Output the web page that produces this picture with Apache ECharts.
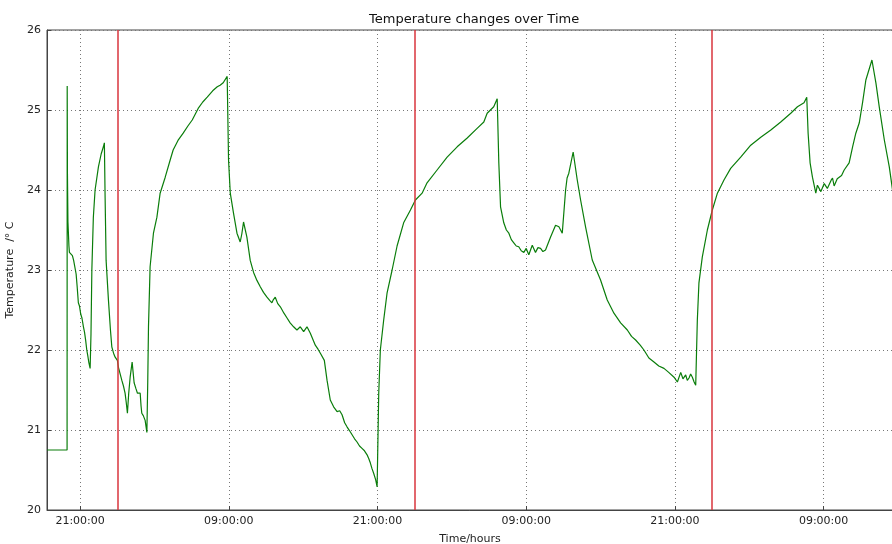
<!DOCTYPE html>
<html><head><meta charset="utf-8">
<script src="https://cdn.jsdelivr.net/npm/echarts@6/dist/echarts.min.js"></script>
<style>html,body{margin:0;padding:0;background:#fff}#c{width:892px;height:544px}</style>
</head><body><div id="c"></div>
<script>
// time in hours since midnight of the first day
const timeHours = [
  18.33, 19.95, 19.96, 19.98, 20.02, 20.10, 20.14, 20.25, 20.38, 20.48, 20.60, 20.68, 20.76, 20.86, 20.95, 21.05, 21.15, 21.27, 21.36, 21.45, 21.54, 21.62, 21.70, 21.81,
  21.88, 21.95, 22.07, 22.21, 22.48, 22.70, 22.88, 22.96, 23.02, 23.10, 23.29, 23.45, 23.56, 23.70, 23.83, 24.01, 24.10, 24.20, 24.37, 24.50, 24.63, 24.72, 24.82,
  24.92, 25.04, 25.20, 25.28, 25.36, 25.50, 25.63, 25.75, 25.85, 25.92, 25.98, 26.10, 26.25, 26.39,
  26.46, 26.52, 26.65, 26.92, 27.20, 27.46, 27.87, 28.27, 28.51, 28.90, 29.32, 29.70, 30.05, 30.53, 30.90, 31.26, 31.70, 32.07, 32.30, 32.55, 32.87,
  32.98, 33.12, 33.38, 33.66, 33.92, 34.05, 34.19, 34.46, 34.73, 35.00, 35.27, 35.54, 35.80, 36.08, 36.30, 36.48, 36.60, 36.75, 36.95, 37.16, 37.45, 37.70, 37.95,
  38.23, 38.50, 38.77, 39.04, 39.31, 39.58, 39.98, 40.20, 40.39, 40.71, 40.93, 41.19, 41.46, 41.60, 41.74, 41.95, 42.14, 42.35, 42.54, 42.75, 42.95, 43.15, 43.35,
  43.55, 43.75, 43.95, 44.16, 44.30, 44.42, 44.55, 44.69, 44.85, 44.97,
  45.10, 45.23, 45.50, 45.77, 46.18, 46.58, 47.11, 47.66, 48.06, 48.60, 49.00, 49.81, 50.62, 51.43, 52.24, 53.04, 53.58, 53.85, 54.38, 54.66,
  54.79, 54.93, 55.19, 55.40, 55.60, 55.80, 56.00, 56.20, 56.40, 56.60, 56.81, 57.00, 57.21, 57.49, 57.75, 57.95, 58.16, 58.35, 58.56, 58.96, 59.37, 59.64, 59.91,
  60.18, 60.30, 60.44, 60.79, 61.12, 61.39, 61.79, 62.33, 63.00, 63.54, 64.08, 64.62, 65.16, 65.50, 65.83, 66.20, 66.50, 66.90, 67.31, 67.70, 68.12, 68.50, 68.93,
  69.20, 69.47, 69.65, 69.87, 70.00, 70.14, 70.27, 70.41, 70.55, 70.68,
  70.81, 70.94, 71.21, 71.62, 72.02, 72.43, 72.96, 73.50, 74.31, 75.12, 75.93, 76.74, 77.54, 78.35, 78.89, 79.42, 79.64,
  79.75, 79.91, 80.10, 80.37, 80.50, 80.64, 80.78, 80.91, 81.05, 81.18, 81.30, 81.45, 81.60, 81.72, 81.85, 81.99, 82.10, 82.26, 82.45, 82.66, 83.06, 83.34, 83.60,
  83.88, 84.14, 84.41, 84.90, 85.22, 85.49, 85.90, 86.30, 86.60
];
const tempValues = [
  20.75, 20.75, 25.30, 24.20, 23.60, 23.30, 23.22, 23.20, 23.18, 23.12, 23.10, 22.95, 22.80, 22.59, 22.55, 22.45, 22.40, 22.29, 22.22, 22.12, 22.00, 21.93, 21.85, 21.77,
  22.20, 23.00, 23.66, 24.00, 24.29, 24.45, 24.54, 24.59, 23.90, 23.12, 22.62, 22.25, 22.04, 21.96, 21.91, 21.87, 21.78, 21.72, 21.62, 21.55, 21.46, 21.35, 21.21,
  21.45, 21.66, 21.85, 21.72, 21.59, 21.52, 21.46, 21.44, 21.46, 21.30, 21.21, 21.18, 21.12, 20.97,
  21.60, 22.29, 23.04, 23.46, 23.66, 23.96, 24.16, 24.375, 24.50, 24.62, 24.71, 24.80, 24.875, 25.02, 25.10, 25.16, 25.24, 25.29, 25.31, 25.34, 25.42,
  24.375, 23.96, 23.71, 23.46, 23.35, 23.45, 23.60, 23.41, 23.12, 22.97, 22.87, 22.79, 22.72, 22.66, 22.62, 22.59, 22.63, 22.66, 22.58, 22.54, 22.46, 22.40, 22.34,
  22.29, 22.25, 22.29, 22.23, 22.29, 22.21, 22.06, 22.01, 21.96, 21.87, 21.62, 21.375, 21.29, 21.31, 21.23, 21.24, 21.19, 21.09, 21.04, 20.99, 20.94, 20.89, 20.85,
  20.80, 20.77, 20.74, 20.69, 20.64, 20.59, 20.52, 20.46, 20.38, 20.29,
  21.46, 22.00, 22.375, 22.71, 23.00, 23.30, 23.59, 23.75, 23.875, 23.96, 24.09, 24.25, 24.41, 24.54, 24.65, 24.77, 24.85, 24.96, 25.04, 25.14,
  24.34, 23.79, 23.59, 23.50, 23.46, 23.38, 23.34, 23.30, 23.29, 23.24, 23.22, 23.27, 23.19, 23.31, 23.22, 23.28, 23.27, 23.23, 23.25, 23.41, 23.56, 23.54, 23.46,
  24.00, 24.15, 24.21, 24.475, 24.125, 23.875, 23.54, 23.125, 22.875, 22.625, 22.46, 22.34, 22.25, 22.17, 22.125, 22.06, 22.00, 21.90, 21.85, 21.80, 21.77, 21.72, 21.66,
  21.60, 21.72, 21.64, 21.69, 21.62, 21.65, 21.70, 21.66, 21.60, 21.56,
  22.375, 22.84, 23.16, 23.50, 23.75, 23.96, 24.125, 24.27, 24.41, 24.56, 24.66, 24.75, 24.85, 24.96, 25.04, 25.09, 25.16,
  24.71, 24.34, 24.16, 23.96, 24.06, 24.04, 23.98, 24.00, 24.08, 24.09, 24.02, 24.04, 24.12, 24.15, 24.05, 24.06, 24.14, 24.125, 24.18, 24.25, 24.34, 24.54, 24.71,
  24.84, 25.09, 25.375, 25.625, 25.34, 25.04, 24.625, 24.29, 23.96
];
const xTickHours = [21, 33, 45, 57, 69, 81];
const midnightHours = [24, 48, 72];
const titleText = 'Temperature changes over Time';
const xName = 'Time/hours';
const yName = 'Temperature  /° C';

const seriesData = timeHours.map((h, i) => [h, tempValues[i]]);
const pad = n => (n < 10 ? '0' : '') + n;
const fmt = v => pad(Math.round(v) % 24) + ':00:00';
const FONT = 'DejaVu Sans';
const gridLine = { show: true, lineStyle: { color: '#777', type: [1, 3], width: 1 } };

const chart = echarts.init(document.getElementById('c'), null, { renderer: 'canvas' });
chart.setOption({
  animation: false,
  backgroundColor: '#fff',
  title: {
    text: titleText, left: 364, top: 8,
    textStyle: { fontFamily: FONT, fontSize: 13, fontWeight: 'normal', color: '#111' }
  },
  grid: { left: 47, top: 30, right: -1, bottom: 34, outerBoundsMode: 'none', containLabel: false,
          show: true, borderColor: '#444', borderWidth: 1, backgroundColor: 'transparent' },
  xAxis: {
    type: 'value', min: 18.33, max: 86.6,
    name: xName, nameLocation: 'middle', nameGap: 24,
    nameTextStyle: { fontFamily: FONT, fontSize: 11, color: '#222' },
    axisLine: { show: true, lineStyle: { color: '#444', width: 1 } },
    axisTick: { show: true, inside: true, length: 4, customValues: xTickHours, lineStyle: { color: '#444' } },
    axisLabel: { customValues: xTickHours, formatter: fmt, margin: 6, fontFamily: FONT, fontSize: 11, color: '#222' },
    splitLine: Object.assign({ customValues: xTickHours }, gridLine)
  },
  yAxis: {
    type: 'value', min: 20, max: 26, interval: 1,
    name: yName, nameLocation: 'middle', nameGap: 27, nameRotate: 90,
    nameTextStyle: { fontFamily: FONT, fontSize: 11, color: '#222' },
    axisLine: { show: true, lineStyle: { color: '#444', width: 1 } },
    axisTick: { show: true, inside: true, length: 4, lineStyle: { color: '#444' } },
    axisLabel: { margin: 6, fontFamily: FONT, fontSize: 11, color: '#222' },
    splitLine: gridLine
  },
  series: [{
    type: 'line', data: seriesData, showSymbol: false, symbol: 'none',
    lineStyle: { color: '#0a7d0a', width: 1.2 },
    z: 3,
    markLine: {
      silent: true, symbol: 'none', label: { show: false },
      lineStyle: { color: '#d9343c', type: 'solid', width: 1.5 },
      data: midnightHours.map(h => ({ xAxis: h }))
    }
  }]
});
</script></body></html>
